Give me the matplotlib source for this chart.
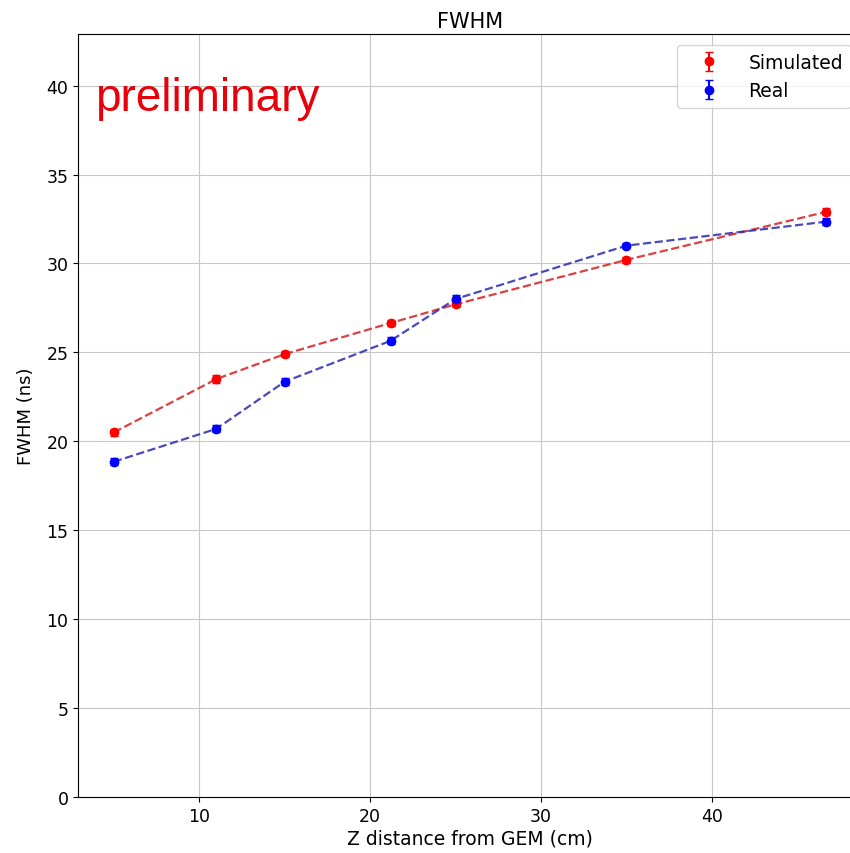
import matplotlib.pyplot as plt

# z positions (cm)
z_sim = [5, 11, 15, 21.2, 25, 35, 46.7]
z_real = [5, 11, 15, 21.2, 25, 35, 46.7]

# FWHM values (ns)
fwhm_sim = [20.5, 23.5, 24.9, 26.65, 27.7, 30.2, 32.9]
fwhm_real = [18.85, 20.7, 23.35, 25.65, 28.0, 31.0, 32.35]
err_sim = [0.2, 0.2, 0.15, 0.15, 0.15, 0.15, 0.2]
err_real = [0.2, 0.2, 0.2, 0.2, 0.2, 0.15, 0.2]

fig = plt.figure(figsize=(8.5, 8.54), dpi=100)
ax = fig.add_axes([0.092, 0.0656, 0.922, 0.8934])

ax.errorbar(z_sim, fwhm_sim, yerr=err_sim, fmt='o', color='red', markersize=6, capsize=3, label='Simulated')
ax.errorbar(z_real, fwhm_real, yerr=err_real, fmt='o', color='blue', markersize=6, capsize=3, label='Real')
ax.plot(z_sim, fwhm_sim, '--', color='#d62020', alpha=0.85, linewidth=1.6)
ax.plot(z_real, fwhm_real, '--', color='#2a2ab0', alpha=0.85, linewidth=1.6)

ax.set_ylim(0, 42.9)
ax.set_xlabel('Z distance from GEM (cm)', fontsize=13.5, labelpad=3)
ax.set_ylabel('FWHM (ns)', fontsize=13, labelpad=8)
ax.set_title('FWHM', fontsize=15, pad=5)
ax.tick_params(labelsize=12.5)
ax.grid(True, color='#c8c8c8')
ax.legend(loc='upper right', fontsize=13.5, handlelength=2.6, borderaxespad=0.6)

ax.text(0.022, 0.9, 'preliminary', transform=ax.transAxes, color='#e8000b',
        fontsize=33, family='Liberation Sans')

fig.savefig('out.png')
